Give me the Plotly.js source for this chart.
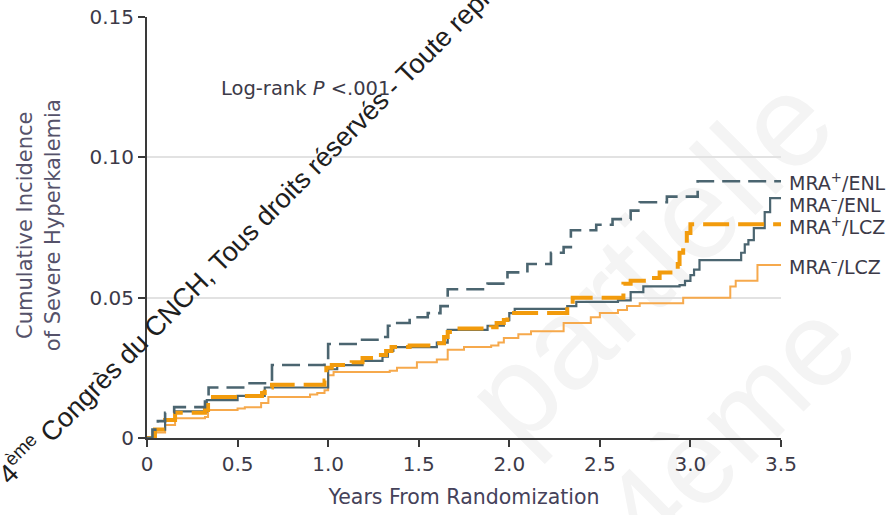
<!DOCTYPE html>
<html>
<head>
<meta charset="utf-8">
<script src="https://cdn.plot.ly/plotly-3.0.1.min.js"></script>
<style>html,body{margin:0;padding:0;background:#fff;}#chart{width:895px;height:515px;}</style>
</head>
<body>
<div id="chart"></div>
<script>
// ---- data (years from randomization, cumulative incidence) ----
var mraPosEnlT = [0, 0.03, 0.06, 0.1, 0.15, 0.32, 0.34, 0.55, 0.69, 0.98, 1.0, 1.17, 1.28, 1.33, 1.36, 1.45, 1.55, 1.62, 1.66, 1.88, 1.99, 2.1, 2.23, 2.3, 2.34, 2.48, 2.57, 2.67, 2.72, 2.87, 3.04, 3.5];
var mraPosEnlY = [0, 0.003, 0.006, 0.009, 0.011, 0.013, 0.018, 0.0195, 0.026, 0.027, 0.0335, 0.035, 0.036, 0.040, 0.041, 0.043, 0.0445, 0.047, 0.053, 0.055, 0.059, 0.062, 0.066, 0.068, 0.074, 0.076, 0.078, 0.081, 0.084, 0.086, 0.0915, 0.0915];

var mraNegEnlT = [0, 0.04, 0.1, 0.155, 0.33, 0.5, 0.65, 1.0, 1.05, 1.19, 1.3, 1.33, 1.36, 1.6, 1.66, 1.88, 1.97, 2.0, 2.03, 2.32, 2.37, 2.6, 2.67, 2.74, 2.94, 2.97, 3.0, 3.02, 3.05, 3.28, 3.3, 3.32, 3.35, 3.41, 3.44, 3.5];
var mraNegEnlY = [0, 0.003, 0.0065, 0.0095, 0.0135, 0.015, 0.018, 0.0245, 0.026, 0.0275, 0.029, 0.031, 0.0324, 0.034, 0.0385, 0.040, 0.042, 0.0445, 0.046, 0.047, 0.0485, 0.049, 0.052, 0.054, 0.0545, 0.056, 0.058, 0.060, 0.0634, 0.066, 0.069, 0.0705, 0.0748, 0.0805, 0.0855, 0.0855];

var mraPosLczT = [0, 0.044, 0.1, 0.155, 0.32, 0.337, 0.5, 0.635, 0.65, 0.69, 0.98, 0.99, 1.02, 1.13, 1.19, 1.28, 1.32, 1.35, 1.45, 1.6, 1.64, 1.66, 1.7, 1.9, 1.93, 1.97, 1.99, 2.32, 2.35, 2.63, 2.67, 2.78, 2.83, 2.93, 2.94, 2.96, 2.98, 3.0, 3.5];
var mraPosLczY = [0, 0.003, 0.0064, 0.009, 0.010, 0.0146, 0.015, 0.016, 0.018, 0.019, 0.0205, 0.025, 0.026, 0.027, 0.0285, 0.0296, 0.031, 0.0324, 0.033, 0.0338, 0.036, 0.0378, 0.039, 0.0395, 0.041, 0.042, 0.0445, 0.047, 0.050, 0.055, 0.056, 0.057, 0.059, 0.062, 0.066, 0.0695, 0.073, 0.0762, 0.0762];

var mraNegLczT = [0, 0.044, 0.1, 0.155, 0.32, 0.337, 0.5, 0.54, 0.63, 0.67, 0.9, 0.94, 0.98, 1.0, 1.03, 1.34, 1.38, 1.49, 1.6, 1.66, 1.75, 1.9, 1.94, 1.97, 2.05, 2.12, 2.3, 2.45, 2.5, 2.6, 2.65, 2.72, 2.96, 3.22, 3.25, 3.37, 3.5];
var mraNegLczY = [0, 0.002, 0.0046, 0.007, 0.0075, 0.010, 0.0105, 0.011, 0.0125, 0.0146, 0.0155, 0.016, 0.017, 0.0224, 0.0235, 0.024, 0.025, 0.027, 0.028, 0.0314, 0.0324, 0.033, 0.034, 0.0356, 0.037, 0.038, 0.041, 0.043, 0.0445, 0.0456, 0.047, 0.048, 0.050, 0.054, 0.056, 0.0616, 0.0616];

var seriesLabels = ['MRA<sup>+</sup>/ENL', 'MRA<sup>\u2013</sup>/ENL', 'MRA<sup>+</sup>/LCZ', 'MRA<sup>\u2013</sup>/LCZ'];
var labelY = [0.0913, 0.0834, 0.0755, 0.0612];
var xTickVals = [0, 0.5, 1.0, 1.5, 2.0, 2.5, 3.0, 3.5];
var xTickText = ['0', '0.5', '1.0', '1.5', '2.0', '2.5', '3.0', '3.5'];
var yTickVals = [0, 0.05, 0.10, 0.15];
var yTickText = ['0', '0.05', '0.10', '0.15'];

var SLATE = '#4b6570';
var ORANGE = '#f29b0c';
var LIGHTOR = '#f6a94c';
var TXT = '#3c3a48';
var FONT = 'DejaVu Sans, sans-serif';

var traces = [
  {x: mraNegLczT, y: mraNegLczY, mode: 'lines', line: {shape: 'hv', color: LIGHTOR, width: 2}},
  {x: mraNegEnlT, y: mraNegEnlY, mode: 'lines', line: {shape: 'hv', color: SLATE, width: 2.2}},
  {x: mraPosLczT, y: mraPosLczY, mode: 'lines', line: {shape: 'hv', color: ORANGE, width: 4, dash: '26px,9px'}},
  {x: mraPosEnlT, y: mraPosEnlY, mode: 'lines', line: {shape: 'hv', color: SLATE, width: 2.6, dash: '18px,8px'}}
];
traces.forEach(function (t) { t.showlegend = false; t.hoverinfo = 'skip'; });

var annotations = [];
for (var i = 0; i < seriesLabels.length; i++) {
  annotations.push({x: 1.0095, y: labelY[i], xref: 'paper', yref: 'y', text: seriesLabels[i], showarrow: false,
    xanchor: 'left', yanchor: 'middle', font: {family: FONT, size: 19, color: TXT}});
}
annotations.push({x: 0.40, y: 0.1245, xref: 'x', yref: 'y', text: 'Log-rank <i>P</i> &lt;.001', showarrow: false,
  xanchor: 'left', yanchor: 'middle', font: {family: FONT, size: 19.5, color: TXT}});
annotations.push({x: -0.17, y: 0.506, xref: 'paper', yref: 'paper', text: 'Cumulative Incidence<br>of Severe Hyperkalemia',
  showarrow: false, textangle: -90, xanchor: 'center', yanchor: 'middle', font: {family: FONT, size: 21, color: '#55526a'}});
annotations.push({x: 0.2088, y: 0.571, xref: 'paper', yref: 'paper',
  text: '4<sup>ème</sup> Congrès du CNCH, Tous droits réservés - Toute reproduction',
  showarrow: false, textangle: -45.2, xanchor: 'center', yanchor: 'middle',
  font: {family: 'Liberation Sans, Arial, sans-serif', size: 27, color: '#1e1e1e'}});

var shapes = [
  {type: 'line', xref: 'paper', yref: 'paper', x0: 0.620, y0: 0.209, x1: 0.935, y1: 0.684, layer: 'below',
   line: {color: 'rgba(0,0,0,0)', width: 1},
   label: {text: 'partielle', textangle: 'auto', textposition: 'middle', yanchor: 'middle',
     font: {family: 'Liberation Sans, Arial, sans-serif', size: 130, color: '#f4f4f4'}}},
  {type: 'line', xref: 'paper', yref: 'paper', x0: 0.746, y0: -0.195, x1: 1.062, y1: 0.280, layer: 'below',
   line: {color: 'rgba(0,0,0,0)', width: 1},
   label: {text: '4ème', textangle: 'auto', textposition: 'middle', yanchor: 'middle',
     font: {family: 'Liberation Sans, Arial, sans-serif', size: 120, color: '#f4f4f4'}}}
];

var layout = {
  width: 895, height: 515,
  margin: {l: 147, r: 114, t: 17, b: 77},
  paper_bgcolor: '#fff', plot_bgcolor: 'rgba(0,0,0,0)',
  font: {family: FONT, color: TXT, size: 17},
  xaxis: {range: [0, 3.5], tickvals: xTickVals, ticktext: xTickText, showgrid: false, zeroline: false,
    showline: true, linecolor: '#3a3a3a', linewidth: 2, ticks: 'outside', ticklen: 7, tickwidth: 2, tickcolor: '#3a3a3a',
    tickfont: {family: FONT, size: 20, color: TXT},
    title: {text: 'Years From Randomization', standoff: 15, font: {family: FONT, size: 20.5, color: '#45425a'}}},
  yaxis: {range: [0, 0.15], tickvals: yTickVals, ticktext: yTickText, showgrid: true, gridcolor: '#e2e2e2', gridwidth: 2,
    zeroline: false, showline: true, linecolor: '#3a3a3a', linewidth: 2, ticks: 'outside', ticklen: 7, tickwidth: 2,
    tickcolor: '#3a3a3a', tickfont: {family: FONT, size: 20, color: TXT}},
  annotations: annotations,
  shapes: shapes
};

Plotly.newPlot('chart', traces, layout, {displayModeBar: false, staticPlot: true});
</script>
</body>
</html>
